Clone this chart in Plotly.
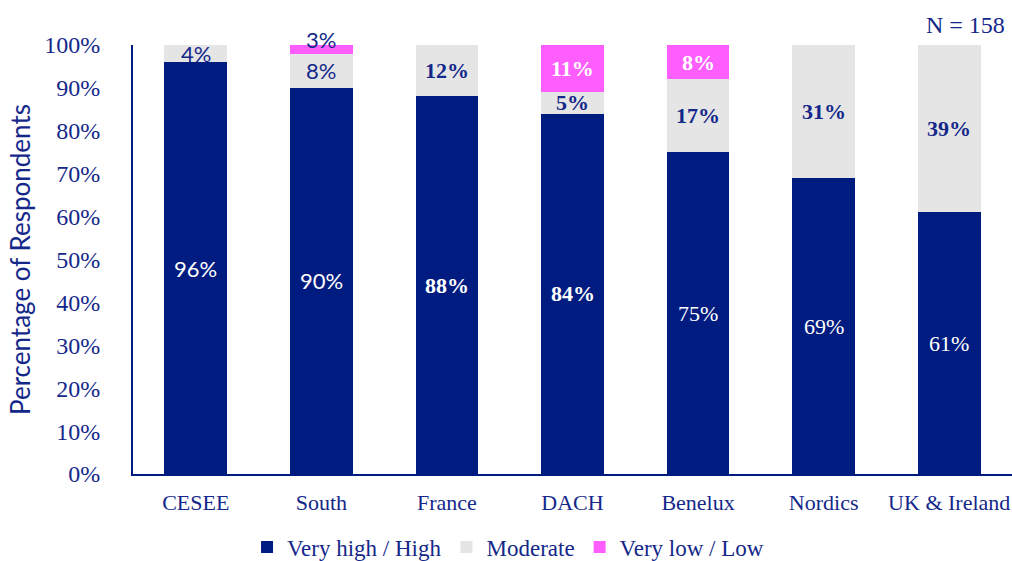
import plotly.graph_objects as go

# Survey results by region (percent of respondents)
regions = ["CESEE", "South", "France", "DACH", "Benelux", "Nordics", "UK & Ireland"]
high = [96, 90, 88, 84, 75, 69, 61]
moderate = [4, 8, 12, 5, 17, 31, 39]
low = [0, 3, 0, 11, 8, 0, 0]
y_ticks = [0, 10, 20, 30, 40, 50, 60, 70, 80, 90, 100]
y_tick_text = [f"{v}%" for v in y_ticks]
sample_note = "N = 158"

NAVY = "#001c80"
TEXT = "#14288a"
GREY = "#e5e5e5"
PINK = "#ff5eff"
SERIF = "Liberation Serif"
SANS = "Lato"

# per-region label styling: (font family, bold?)
label_style = {
    "CESEE": (SANS, False),
    "South": (SANS, False),
    "France": (SERIF, True),
    "DACH": (SERIF, True),
    "Benelux": (SERIF, True),
    "Nordics": (SERIF, True),
    "UK & Ireland": (SERIF, True),
}

series = [
    ("Very high / High", high, NAVY, "white"),
    ("Moderate", moderate, GREY, TEXT),
    ("Very low / Low", low, PINK, "white"),
]

fig = go.Figure()
annotations = []
base = [0] * len(regions)
for name, vals, colour, label_colour in series:
    fig.add_trace(go.Bar(
        x=regions, y=vals, name=name,
        marker=dict(color=colour, line=dict(width=0)),
    ))
    for i, (reg, v) in enumerate(zip(regions, vals)):
        if v:
            fam, bold = label_style[reg]
            if name == "Very high / High" and reg in ("Benelux", "Nordics", "UK & Ireland"):
                bold = False
            top = base[i] + v
            col = label_colour
            if top > 100:
                col = TEXT  # label sits above the clipped segment
            annotations.append(dict(
                x=reg, y=base[i] + v / 2, xref="x", yref="y",
                text=f"<b>{v}%</b>" if bold else f"{v}%",
                showarrow=False, yanchor="middle",
                yshift=8 if top > 100 else 0,
                font=dict(family=fam, size=22, color=col),
            ))
        base[i] += v

annotations.append(dict(
    text=sample_note, xref="paper", yref="paper",
    x=0.994, y=1.047, xanchor="right", yanchor="middle",
    showarrow=False, font=dict(family=SERIF, size=24, color=TEXT),
))

fig.update_layout(
    barmode="stack",
    bargap=0.5,
    width=1012, height=561,
    margin=dict(l=133, r=0, t=45, b=87),
    paper_bgcolor="white", plot_bgcolor="white",
    font=dict(family=SERIF, color=TEXT),
    showlegend=True,
    legend=dict(
        orientation="h", xref="container", yref="container",
        x=0.502, xanchor="center", y=0.025, yanchor="middle",
        font=dict(family=SERIF, size=23, color=TEXT),
        traceorder="normal",
    ),
    xaxis=dict(
        showline=True, linecolor=NAVY, linewidth=2,
        showgrid=False, ticks="", ticklabelstandoff=8,
        tickfont=dict(family=SERIF, size=22, color=TEXT),
    ),
    yaxis=dict(
        range=[0, 100], tickvals=y_ticks, ticktext=y_tick_text,
        showline=True, linecolor=NAVY, linewidth=2,
        showgrid=False, zeroline=False, ticks="", ticklabelstandoff=26,
        tickfont=dict(family=SERIF, size=24, color=TEXT),
        title=dict(text="Percentage of Respondents", standoff=6,
                   font=dict(family=SANS, size=26, color=TEXT)),
    ),
    annotations=annotations,
)

fig.write_html("out.html")
